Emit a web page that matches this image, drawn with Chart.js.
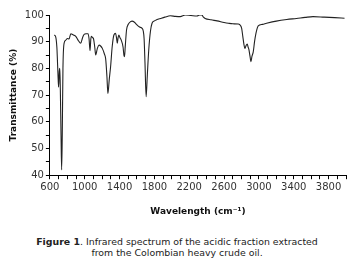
<!DOCTYPE html>
<html>
<head>
<meta charset="utf-8">
<script src="https://cdn.jsdelivr.net/npm/chart.js@4"></script>
<style>
  html, body { margin: 0; padding: 0; background: #fff; }
  #wrap { position: relative; width: 354px; height: 264px; overflow: hidden; }
  #chartBox { position: absolute; left: 0; top: 0; width: 354px; height: 217px; }
  #caption { position: absolute; left: 0; top: 236px; width: 354px; text-align: center;
    font-family: "DejaVu Sans", sans-serif; font-size: 9.4px; line-height: 11px; color: #222; }
  #caption b { font-weight: bold; }
</style>
</head>
<body>
<div id="wrap">
  <div id="chartBox"><canvas id="c"></canvas></div>
  <div id="caption"><b>Figure 1</b>. Infrared spectrum of the acidic fraction extracted<br>from the Colombian heavy crude oil.</div>
</div>
<script>
const wavenumbers = [650,665,680,695,700,708,714,720,728,735,742,750,763,780,802,820,840,870,897,925,954,975,992,1015,1038,1050,1061,1070,1077,1090,1100,1115,1126,1145,1164,1185,1202,1225,1240,1255,1266,1282,1297,1315,1335,1354,1365,1374,1383,1392,1405,1419,1440,1450,1457,1465,1480,1500,1526,1545,1564,1585,1602,1630,1659,1672,1682,1692,1705,1718,1735,1755,1773,1800,1830,1869,1920,1983,2040,2097,2154,2220,2288,2320,2345,2360,2383,2450,2520,2600,2650,2700,2764,2790,2802,2815,2828,2840,2852,2866,2876,2886,2898,2909,2920,2935,2950,2966,2992,3040,3088,3200,3320,3431,3530,3621,3750,3870,3983];
const transmittance = [92.5,92,88,76,73,79,80,72,55,42,55,80,89.4,90.5,91.2,91,93,92.5,92,90.5,89.4,91.5,92.7,93,93,91,86.6,91,92,91.5,91.2,88,85,87.5,88.7,88.3,87.5,85.5,83.7,77,70.6,76,80.6,88,92.5,93.1,91.5,89.4,91.5,92.5,91.5,90.6,88,85,84.4,88,94.4,96.5,97.5,97.7,97.5,96.8,96.2,95.5,95,94,91,82,69.4,77,86.9,94,96.9,97.8,98.3,98.7,99.2,99.7,99.5,99.4,100,99.8,99.6,100,100,99.3,98.7,98.2,97.8,97.2,96.9,96.7,96.6,96,95,92,89,87.5,88.5,89.1,88,86.9,84.5,82.5,84.5,86.2,90,93.1,95.9,96.5,96.9,97.7,98.3,98.7,99.1,99.4,99.2,99,98.8];
const xLabels = [600,1000,1400,1800,2200,2600,3000,3400,3800];
const yLabels = [40,50,60,70,80,90,100];

const points = wavenumbers.map((w, i) => ({ x: w, y: transmittance[i] }));
const FONT = "DejaVu Sans";

new Chart(document.getElementById('c'), {
  type: 'line',
  data: { datasets: [{ data: points, borderColor: '#222', borderWidth: 1.1, pointRadius: 0, fill: false, cubicInterpolationMode: 'monotone' }] },
  options: {
    responsive: true, maintainAspectRatio: false, animation: false,
    layout: { padding: { left: 8, right: 8, top: 15, bottom: 0 } },
    plugins: { legend: { display: false }, tooltip: { enabled: false } },
    scales: {
      x: {
        type: 'linear', min: 600, max: 4000,
        border: { display: true, color: '#000', width: 1 },
        grid: { display: true, drawOnChartArea: false, drawTicks: true, tickLength: 4, color: '#000' },
        ticks: { stepSize: 100, autoSkip: false, maxRotation: 0, color: '#333', font: { family: FONT, size: 10 }, padding: 2,
          callback: v => xLabels.includes(v) ? String(v) : '' },
        title: { display: true, text: 'Wavelength (cm⁻¹)', color: '#111', font: { family: FONT, size: 9, weight: 'bold' }, padding: { top: 11, bottom: 0 } }
      },
      y: {
        min: 40, max: 100,
        border: { display: true, color: '#000', width: 1 },
        grid: { display: true, drawOnChartArea: false, drawTicks: true, tickLength: 4, color: '#000' },
        ticks: { stepSize: 5, autoSkip: false, color: '#333', font: { family: FONT, size: 10 }, padding: 2,
          callback: v => yLabels.includes(v) ? String(v) : '' },
        title: { display: true, text: 'Transmittance (%)', color: '#111', font: { family: FONT, size: 9, weight: 'bold' }, padding: { top: 0, bottom: 4 } }
      }
    }
  }
});
</script>
</body>
</html>
